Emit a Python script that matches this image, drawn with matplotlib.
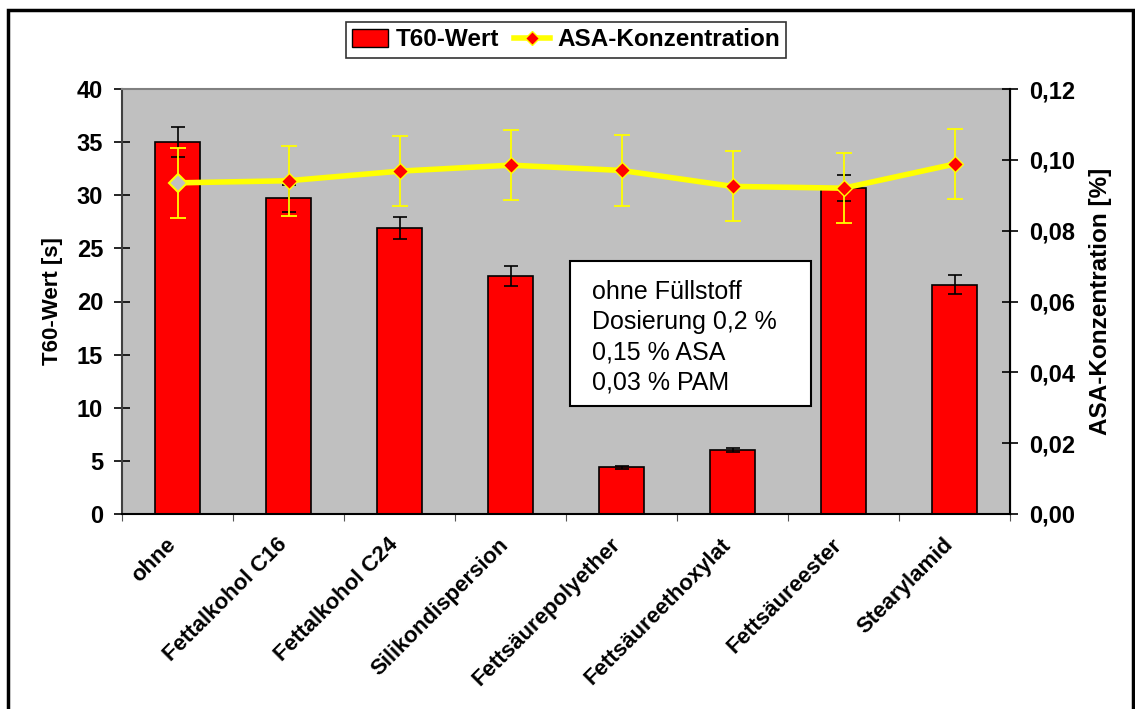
import numpy as np
import matplotlib.pyplot as plt
import matplotlib.transforms as mtransforms
from matplotlib.patches import Rectangle, Patch
from matplotlib.lines import Line2D
from matplotlib.ticker import FuncFormatter

plt.rcParams['font.family'] = ['Liberation Sans', 'DejaVu Sans']

# data
kategorien = ['ohne', 'Fettalkohol C16', 'Fettalkohol C24', 'Silikondispersion',
              'Fettsäurepolyether', 'Fettsäureethoxylat', 'Fettsäureester', 'Stearylamid']
t60 = [35.0, 29.7, 26.9, 22.4, 4.4, 6.0, 30.7, 21.6]
t60_err = [1.4, 1.25, 1.05, 0.9, 0.15, 0.2, 1.2, 0.85]
asa = [0.0935, 0.0941, 0.0968, 0.0985, 0.0970, 0.0925, 0.0920, 0.0988]
asa_err = [0.0099, 0.0099, 0.0099, 0.0099, 0.0099, 0.0099, 0.0099, 0.0099]

x = np.arange(len(kategorien))

fig = plt.figure(figsize=(11.35, 7.09), dpi=100)
fig.patches.append(Rectangle((8 / 1135, -0.05), 1125 / 1135, 1 - 10 / 709 + 0.05,
                             transform=fig.transFigure, fill=False,
                             edgecolor='black', linewidth=2.5))

ax = fig.add_axes([122 / 1135, 1 - 514 / 709, 888 / 1135, 425 / 709])
ax.set_facecolor('#c0c0c0')
ax.bar(x, t60, width=0.41, color='#ff0000', edgecolor='black', linewidth=1.2,
       label='T60-Wert', zorder=2)
ax.errorbar(x, t60, yerr=t60_err, fmt='none', ecolor='black', elinewidth=1.2,
            capsize=5, capthick=1.2, zorder=3)

ax.set_xlim(-0.5, len(kategorien) - 0.5)
ax.set_ylim(0, 40)
ax.set_yticks(np.arange(0, 41, 5))
ax.set_xticks(np.arange(-0.5, len(kategorien), 1))
ax.set_xticklabels([])
ax.set_xticks(x, minor=True)
ax.set_xticklabels(kategorien, minor=True, rotation=45, ha='right', va='top',
                   rotation_mode='anchor', fontsize=16, fontweight='bold')
ax.tick_params(axis='x', which='minor', length=0, pad=16)
ax.tick_params(axis='x', which='major', direction='out', length=5, color='#555555')
shift = mtransforms.ScaledTranslation(-12 / 100, 2 / 100, fig.dpi_scale_trans)
for lab in ax.get_xticklabels(minor=True):
    lab.set_transform(lab.get_transform() + shift)
ax.tick_params(axis='y', direction='inout', length=11, labelsize=17, width=1.2, pad=8)
for lab in ax.get_yticklabels():
    lab.set_fontweight('bold')
ax.set_ylabel('T60-Wert [s]', fontsize=16, fontweight='bold', labelpad=10)
ax.spines['top'].set_color('#808080')
ax.spines['top'].set_linewidth(1.5)
ax.spines['bottom'].set_linewidth(1.5)
ax.spines['left'].set_color('#404040')
ax.spines['left'].set_linewidth(1.5)

ax2 = ax.twinx()
ax2.set_ylim(0, 0.12)
ax2.set_yticks(np.arange(0, 0.121, 0.02))
ax2.yaxis.set_major_formatter(FuncFormatter(lambda v, p: f'{v:.2f}'.replace('.', ',')))
ax2.errorbar(x, asa, yerr=asa_err, fmt='none', ecolor='#ffff00', elinewidth=1.3,
             capsize=6, capthick=1.3, zorder=4)
ax2.plot(x, asa, color='#ffff00', linewidth=4, zorder=5)
ax2.plot(x[1:], asa[1:], linestyle='none', marker='D', markersize=8,
         markerfacecolor='#ff0000', markeredgecolor='#ffff00', markeredgewidth=1, zorder=6)
ax2.plot(x[:1], asa[:1], linestyle='none', marker='D', markersize=9,
         markerfacecolor='#c0c0c0', markeredgecolor='#ffff00', markeredgewidth=1.5, zorder=6)
ax2.tick_params(axis='y', direction='inout', length=12, labelsize=17, width=1.2, pad=8)
for lab in ax2.get_yticklabels():
    lab.set_fontweight('bold')
ax2.set_ylabel('ASA-Konzentration [%]', fontsize=17.5, fontweight='bold', labelpad=10)
ax2.spines['right'].set_linewidth(1.5)
for s in ['top', 'left', 'bottom']:
    ax2.spines[s].set_visible(False)

# legend
handles = [Patch(facecolor='#ff0000', edgecolor='black', label='T60-Wert'),
           Line2D([], [], color='#ffff00', linewidth=4, marker='D', markersize=7,
                  markerfacecolor='#ff0000', markeredgecolor='#ffff00',
                  label='ASA-Konzentration')]
leg = fig.legend(handles=handles, loc='center', bbox_to_anchor=(566 / 1135, 1 - 40 / 709),
                 ncol=2, frameon=True, fancybox=False, edgecolor='black',
                 prop={'size': 17.5, 'weight': 'bold'}, handlelength=1.5,
                 handletextpad=0.3, columnspacing=0.6, borderpad=0.25)
leg.get_frame().set_linewidth(1.2)

# text box
fig.text(592 / 1135, 1 - 337 / 709,
         'ohne Füllstoff\nDosierung 0,2 %\n0,15 % ASA\n0,03 % PAM',
         fontsize=18, va='center', ha='left', linespacing=1.33, zorder=10)
fig.patches.append(Rectangle((570 / 1135, 1 - 406 / 709), 241 / 1135, 145 / 709,
                             transform=fig.transFigure, facecolor='white',
                             edgecolor='black', linewidth=1.5, zorder=5))

fig.savefig('out.png', dpi=100)
